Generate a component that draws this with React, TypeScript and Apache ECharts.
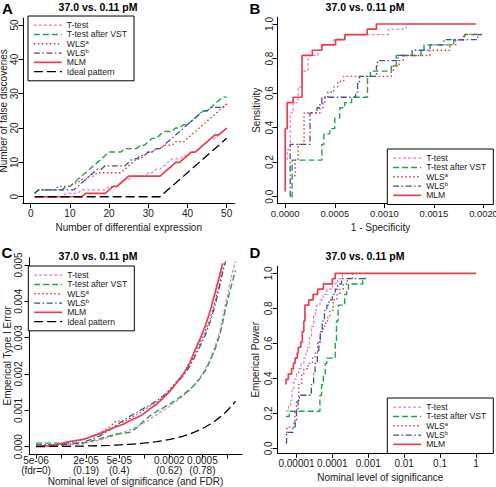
import React, { useEffect, useRef } from 'react';
import * as echarts from 'echarts';

const FONT = '"Liberation Sans Narrow", "Liberation Sans", Arial, sans-serif';
const BOLD_FONT = '"Liberation Sans", Arial, sans-serif';

const TITLE = '37.0 vs. 0.11 pM';
const NAMES_AC = ['T-test', 'T-test after VST', 'WLSa', 'WLSb', 'MLM', 'Ideal pattern'];
const NAMES_BD = ['T-test', 'T-test after VST', 'WLSa', 'WLSb', 'MLM'];

// ---------- Panel A: number of false discoveries among the top k ----------
const aRank = [1, 2, 3, 4, 5, 6, 7, 8, 9, 10, 11, 12, 13, 14, 15, 16, 17, 18, 19, 20, 21, 22, 23, 24, 25, 26, 27, 28, 29, 30, 31, 32, 33, 34, 35, 36, 37, 38, 39, 40, 41, 42, 43, 44, 45, 46, 47, 48, 49, 50];
const aTtest = [0, 0, 0, 0, 0, 0, 0, 0, 1, 1, 1, 1, 2, 2, 2, 2, 2, 2, 2, 3, 3, 3, 4, 5, 5, 6, 6, 6, 6, 7, 7, 8, 8, 9, 10, 11, 11, 11, 12, 12, 13, 13, 14, 15, 16, 17, 17, 18, 19, 20];
const aVST = [1, 2, 2, 2, 2, 2, 2, 2, 3, 3, 4, 5, 6, 7, 8, 9, 10, 11, 12, 13, 13, 13, 13, 14, 14, 14, 14, 15, 15, 16, 17, 17, 18, 19, 19, 19, 20, 20, 21, 21, 22, 23, 24, 25, 25, 26, 27, 28, 29, 29];
const aWLSa = [1, 2, 2, 2, 2, 2, 3, 3, 3, 3, 4, 4, 5, 5, 6, 6, 7, 7, 7, 7, 7, 7, 7, 8, 9, 10, 11, 11, 12, 13, 13, 14, 14, 15, 15, 15, 16, 16, 16, 17, 18, 19, 20, 21, 22, 23, 24, 25, 26, 27];
const aWLSb = [1, 2, 2, 2, 2, 2, 2, 2, 2, 2, 2, 3, 4, 5, 6, 7, 8, 8, 9, 9, 9, 9, 9, 9, 10, 11, 11, 12, 12, 13, 13, 14, 14, 15, 16, 17, 18, 19, 20, 21, 22, 23, 24, 25, 25, 26, 26, 26, 26, 27];
const aMLM = [0, 0, 0, 0, 0, 0, 0, 0, 0, 0, 0, 0, 0, 1, 1, 1, 1, 1, 1, 2, 3, 3, 4, 5, 6, 6, 6, 6, 6, 6, 6, 6, 6, 7, 8, 9, 10, 10, 11, 12, 13, 13, 14, 15, 16, 17, 18, 18, 19, 20];
const aIdeal = [0, 0, 0, 0, 0, 0, 0, 0, 0, 0, 0, 0, 0, 0, 0, 0, 0, 0, 0, 0, 0, 0, 0, 0, 0, 0, 0, 0, 0, 0, 0, 0, 0, 1, 2, 3, 4, 5, 6, 7, 8, 9, 10, 11, 12, 13, 14, 15, 16, 17];
const aXTicks = [0, 10, 20, 30, 40, 50];
const aYTicks = [0, 10, 20, 30, 40, 50];

// ---------- Panel B: ROC, [1 - specificity, sensitivity] ----------
const bTtest = [[0.00002, 0.212], [0.00002, 0.273], [0.00005, 0.485], [0.00008, 0.545], [0.00013, 0.636], [0.00017, 0.727], [0.00023, 0.818], [0.00033, 0.848], [0.00037, 0.879], [0.00049, 0.909], [0.0006, 0.939], [0.00104, 0.97], [0.00122, 1.0], [0.0019, 1.0]];
const bVST = [[0.00006, 0], [0.00007, 0.212], [0.00037, 0.303], [0.00039, 0.364], [0.00045, 0.394], [0.0005, 0.455], [0.00055, 0.515], [0.0006, 0.545], [0.00067, 0.576], [0.00083, 0.697], [0.00086, 0.727], [0.00107, 0.758], [0.00112, 0.818], [0.00137, 0.848], [0.0014, 0.879], [0.0017, 0.909], [0.00181, 0.939], [0.00198, 0.939]];
const bWLSa = [[0.00009, 0.121], [0.0001, 0.212], [0.00013, 0.303], [0.00019, 0.485], [0.00035, 0.515], [0.00038, 0.545], [0.0004, 0.576], [0.00043, 0.606], [0.00049, 0.636], [0.00053, 0.667], [0.00059, 0.697], [0.00107, 0.727], [0.00109, 0.758], [0.00115, 0.788], [0.00119, 0.818], [0.00146, 0.848], [0.00166, 0.879], [0.00172, 0.909], [0.0018, 0.939], [0.00198, 0.939]];
const bWLSb = [[0.00005, 0], [0.00005, 0.303], [0.00025, 0.485], [0.00032, 0.515], [0.00035, 0.545], [0.00037, 0.576], [0.00071, 0.606], [0.00073, 0.667], [0.00075, 0.697], [0.00092, 0.758], [0.00093, 0.788], [0.00114, 0.818], [0.00128, 0.848], [0.00146, 0.879], [0.0016, 0.909], [0.00194, 0.939], [0.00198, 0.939]];
const bMLM = [[0, 0.03], [0, 0.394], [0.00002, 0.545], [0.00008, 0.576], [0.00017, 0.818], [0.000274, 0.848], [0.000368, 0.879], [0.000508, 0.909], [0.000602, 0.939], [0.000826, 0.97], [0.00092, 1.0], [0.001923, 1.0]];
const bXTicks = [0, 0.0005, 0.001, 0.0015, 0.002];
const bYTicks = [0, 0.2, 0.4, 0.6, 0.8, 1.0];

// ---------- Panel C: empirical type I error vs nominal level ----------
const cNominal = [0.000005, 0.0000074, 0.0000089, 0.0000117, 0.0000185, 0.0000294, 0.0000387, 0.0000467, 0.000056, 0.0000674, 0.000081, 0.0000975, 0.000117, 0.000141, 0.000169, 0.000204, 0.000245, 0.000294, 0.000355, 0.000407, 0.000468, 0.000537, 0.000617, 0.000708, 0.000814, 0.000877, 0.00095, 0.00105, 0.00115, 0.00125];
const cTtest = [0.00002, 0.00002, 0.00003, 0.00005, 0.00008, 0.00018, 0.00027, 0.00033, 0.0004, 0.00047, 0.00055, 0.00064, 0.00076, 0.00088, 0.001, 0.00112, 0.00126, 0.0014, 0.00156, 0.00172, 0.0019, 0.00212, 0.0024, 0.00275, 0.0032, 0.00355, 0.00395, 0.0044, 0.0048, 0.0051];
const cVST = [0.0001, 0.0001, 0.0001, 0.0001, 0.0001, 0.00022, 0.0003, 0.00035, 0.00037, 0.0004, 0.00052, 0.0007, 0.00085, 0.00097, 0.00107, 0.00118, 0.0013, 0.00143, 0.00158, 0.00172, 0.00188, 0.00208, 0.00235, 0.00268, 0.0031, 0.00342, 0.0038, 0.0042, 0.00455, 0.00485];
const cWLSa = [0.00005, 0.00005, 0.00006, 0.0001, 0.0002, 0.00038, 0.00055, 0.00072, 0.00068, 0.00078, 0.00088, 0.001, 0.00112, 0.00122, 0.00136, 0.00158, 0.0018, 0.002, 0.00228, 0.00255, 0.00285, 0.00315, 0.00352, 0.00398, 0.00455, 0.00488, 0.0051, null, null, null];
const cWLSb = [0.00005, 0.00005, 0.00005, 0.00006, 0.00012, 0.0003, 0.00047, 0.0006, 0.00072, 0.00084, 0.00094, 0.00105, 0.00115, 0.00126, 0.0014, 0.00156, 0.00175, 0.00195, 0.00222, 0.00248, 0.00276, 0.00305, 0.00342, 0.00388, 0.00445, 0.0048, 0.0051, null, null, null];
const cMLM = [0.00002, 0.00003, 0.00006, 0.00013, 0.0002, 0.00036, 0.00048, 0.00056, 0.00062, 0.00072, 0.0008, 0.0009, 0.00104, 0.00117, 0.00134, 0.00153, 0.00176, 0.00199, 0.00232, 0.00266, 0.00296, 0.0033, 0.00372, 0.00422, 0.00475, 0.00505, null, null, null, null];
const cIdeal = [0.000005, 0.0000074, 0.0000089, 0.0000117, 0.0000185, 0.0000294, 0.0000387, 0.0000467, 0.000056, 0.0000674, 0.000081, 0.0000975, 0.000117, 0.000141, 0.000169, 0.000204, 0.000245, 0.000294, 0.000355, 0.000407, 0.000468, 0.000537, 0.000617, 0.000708, 0.000814, 0.000877, 0.00095, 0.00105, 0.00115, 0.00125];
const cXTicks = [0.000005, 0.00001, 0.00002, 0.00005, 0.0001, 0.0002, 0.0005, 0.001];
const cXLabelValues = [0.000005, 0.00002, 0.00005, 0.0002, 0.0005];
const cXLabels = ['5e-06\n(fdr=0)', '2e-05\n(0.19)', '5e-05\n(0.4)', '0.0002\n(0.62)', '0.0005\n(0.78)'];
const cYTicks = [0, 0.001, 0.002, 0.003, 0.004, 0.005];

// ---------- Panel D: empirical power vs nominal level ----------
const dTtest = [[0.0000051, 0.212], [0.000006, 0.242], [0.0000068, 0.273], [0.0000075, 0.333], [0.0000085, 0.394], [0.00001, 0.424], [0.0000115, 0.455], [0.0000135, 0.485], [0.000016, 0.515], [0.000018, 0.545], [0.00002, 0.576], [0.000023, 0.636], [0.000026, 0.697], [0.00003, 0.758], [0.000033, 0.788], [0.000036, 0.818], [0.000045, 0.848], [0.000055, 0.879], [0.00007, 0.909], [0.0001, 0.939], [0.00014, 0.97], [0.00019, 1.0]];
const dVST = [[0.0000051, 0.182], [0.0000063, 0.212], [0.000045, 0.303], [0.00005, 0.364], [0.000056, 0.424], [0.000063, 0.485], [0.00007, 0.515], [0.00012, 0.606], [0.00013, 0.727], [0.000145, 0.818], [0.00022, 0.879], [0.00025, 0.909], [0.00028, 0.939], [0.0007, 0.97], [0.00088, 0.97]];
const dWLSa = [[0.0000051, 0.091], [0.0000054, 0.121], [0.0000085, 0.152], [0.000009, 0.212], [0.00001, 0.273], [0.0000115, 0.364], [0.000014, 0.424], [0.000016, 0.455], [0.000021, 0.485], [0.000028, 0.515], [0.000033, 0.545], [0.000039, 0.606], [0.000046, 0.667], [0.000055, 0.697], [0.000065, 0.727], [0.000075, 0.758], [0.000085, 0.788], [0.000105, 0.848], [0.000135, 0.879], [0.00016, 0.909], [0.0002, 0.939], [0.00026, 0.97], [0.00036, 1.0], [0.0004, 1.0]];
const dWLSb = [[0.000005, 0.03], [0.0000053, 0.091], [0.000008, 0.121], [0.0000092, 0.152], [0.00001, 0.212], [0.000011, 0.273], [0.000012, 0.303], [0.000026, 0.364], [0.00003, 0.424], [0.000033, 0.485], [0.000038, 0.545], [0.000042, 0.606], [0.000046, 0.667], [0.000052, 0.727], [0.00006, 0.788], [0.00007, 0.818], [0.00008, 0.848], [0.0001, 0.879], [0.00012, 0.909], [0.00014, 0.939], [0.00018, 0.97], [0.00085, 0.97]];
const dMLM = [[0.0000051, 0.364], [0.0000051, 0.394], [0.0000059, 0.424], [0.0000073, 0.455], [0.0000082, 0.485], [0.0000091, 0.515], [0.0000105, 0.545], [0.0000112, 0.576], [0.0000131, 0.606], [0.0000145, 0.667], [0.000016, 0.727], [0.0000172, 0.818], [0.000022, 0.848], [0.000029, 0.879], [0.000039, 0.909], [0.000056, 0.939], [0.0001, 0.97], [0.00012, 1.0], [1, 1.0]];
const dXTicks = [0.00001, 0.0001, 0.001, 0.01, 0.1, 1];
const dXLabels = ['0.00001', '0.0001', '0.001', '0.01', '0.1', '1'];
const dYTicks = [0, 0.2, 0.4, 0.6, 0.8, 1.0];

const STYLE: Record<string, any> = {
  'T-test': { color: '#e77fc4', width: 1.2, type: [3, 2] },
  'T-test after VST': { color: '#22a24a', width: 1.4, type: [6, 3] },
  WLSa: { color: '#cc3a33', width: 1.4, type: [1.5, 2.5] },
  WLSb: { color: '#3e4ea6', width: 1.3, type: [6, 2.5, 1.5, 2.5] },
  MLM: { color: '#e8414b', width: 1.7, type: 'solid' },
  'Ideal pattern': { color: '#000000', width: 1.3, type: [9, 4] },
};

const zip = (xs: number[], ys: (number | null)[]) =>
  xs.map((x, i) => [x, ys[i]]).filter((p) => p[1] !== null);

const mkSeries = (name: string, data: any[], idx: number, step?: string) => ({
  type: 'line',
  name,
  xAxisIndex: idx,
  yAxisIndex: idx,
  data,
  step: step || false,
  symbol: 'none',
  silent: true,
  lineStyle: { ...STYLE[name] },
  itemStyle: { color: STYLE[name].color },
  emphasis: { disabled: true },
});

const labelText = { fontFamily: FONT, fontSize: 10, color: '#1a1a1a' };
const nameText = { fontFamily: FONT, fontSize: 10, color: '#1a1a1a' };

const xAxisDef = (idx: number, type: string, min: number, max: number, ticks: number[], labelVals: number[], fmt: (v: number) => string, name: string, extra: any = {}) => ({
  type,
  gridIndex: idx,
  min,
  max,
  logBase: 10,
  axisLine: { show: true, onZero: false, lineStyle: { color: '#000', width: 1 } },
  axisTick: { show: true, length: 4.5, customValues: ticks, lineStyle: { color: '#000', width: 1 } },
  axisLabel: { customValues: labelVals, formatter: fmt, margin: 5, hideOverlap: false, ...labelText, ...(extra.label || {}) },
  splitLine: { show: false },
  minorTick: { show: false },
  name,
  nameLocation: 'middle',
  nameGap: extra.nameGap ?? 19,
  nameTextStyle: nameText,
});

const yAxisDef = (idx: number, min: number, max: number, ticks: number[], fmt: (v: number) => string, name: string, margin: number, nameGap: number) => ({
  type: 'value',
  gridIndex: idx,
  min,
  max,
  axisLine: { show: true, onZero: false, lineStyle: { color: '#000', width: 1 } },
  axisTick: { show: true, length: 4.5, customValues: ticks, lineStyle: { color: '#000', width: 1 } },
  axisLabel: { customValues: ticks, formatter: fmt, rotate: 90, margin, ...labelText },
  splitLine: { show: false },
  name,
  nameLocation: 'middle',
  nameRotate: 90,
  nameGap,
  nameTextStyle: nameText,
});

const legendDef = (names: string[], left: number, top: number) => ({
  data: names,
  left,
  top,
  orient: 'vertical',
  itemWidth: 28,
  itemHeight: 9.3,
  itemGap: 0,
  itemTextGap: 6,
  padding: [4.5, 7, 4.5, 5],
  borderColor: '#000',
  borderWidth: 1,
  backgroundColor: '#ffffff',
  selectedMode: false,
  itemStyle: { opacity: 0, borderWidth: 0 },
  lineStyle: { width: 'inherit', type: 'inherit' },
  formatter: (n: string) => (n === 'WLSa' ? 'WLS{sup|a}' : n === 'WLSb' ? 'WLS{sup|b}' : n),
  textStyle: {
    fontFamily: FONT,
    fontSize: 8.6,
    color: '#1a1a1a',
    lineHeight: 9.3,
    rich: {
      sup: { fontFamily: FONT, fontSize: 5.8, color: '#1a1a1a', verticalAlign: 'top', lineHeight: 5 },
    },
  },
});

const findLabel = (v: number, vals: number[], labels: string[]) => {
  for (let i = 0; i < vals.length; i++) {
    if (Math.abs(Math.log10(v) - Math.log10(vals[i])) < 0.01) return labels[i];
  }
  return '';
};

const textEl = (text: string, x: number, y: number, font: string) => ({
  type: 'text',
  x,
  y,
  silent: true,
  style: { text, font, fill: '#000', align: 'center', verticalAlign: 'middle', textAlign: 'center', textVerticalAlign: 'middle' },
});

export default function App() {
  const ref = useRef<HTMLDivElement>(null);
  useEffect(() => {
    if (!ref.current) return;
    const chart = echarts.init(ref.current, undefined, { renderer: 'svg' });
    const option: any = {
      animation: false,
      backgroundColor: '#ffffff',
      textStyle: { fontFamily: FONT },
      grid: [
        { left: 22.9, top: 18.1, width: 211.6, height: 185.5, outerBoundsMode: 'none' },
        { left: 277.6, top: 17.1, width: 205.9, height: 186.5, outerBoundsMode: 'none' },
        { left: 29, top: 257.7, width: 213, height: 196.3, outerBoundsMode: 'none' },
        { left: 277.3, top: 266.3, width: 206, height: 187, outerBoundsMode: 'none' },
      ],
      xAxis: [
        xAxisDef(0, 'value', -2, 52, aXTicks, aXTicks, (v) => String(v), 'Number of differential expression'),
        xAxisDef(1, 'value', -0.0000768, 0.002, bXTicks, bXTicks, (v) => v.toFixed(4), '1 - Specificity', { label: { fontSize: 9.4 } }),
        xAxisDef(2, 'log', 0.00000412, 0.001496, cXTicks, cXLabelValues, (v) => findLabel(v, cXLabelValues, cXLabels), 'Nominal level of significance (and FDR)', { label: { margin: 2, lineHeight: 9.5 }, nameGap: 17.5 }),
        xAxisDef(3, 'log', 0.00000292, 1.6, dXTicks, dXTicks, (v) => findLabel(v, dXTicks, dXLabels), 'Nominal level of significance'),
      ],
      yAxis: [
        yAxisDef(0, -2, 52, aYTicks, (v) => String(v), 'Number of false discoveries', 3.5, 7.5),
        yAxisDef(1, -0.04, 1.04, bYTicks, (v) => v.toFixed(1), 'Sensitivity', 3.5, 16),
        yAxisDef(2, -0.0002, 0.0052, cYTicks, (v) => v.toFixed(3), 'Emperical Type I Error', 5.5, 14),
        yAxisDef(3, -0.0286, 1.04, dYTicks, (v) => v.toFixed(1), 'Emperical Power', 3.5, 16.5),
      ],
      legend: [
        legendDef(NAMES_AC, 28, 16),
        legendDef(NAMES_BD, 387.3, 149),
        legendDef(NAMES_AC, 28.3, 266),
        legendDef(NAMES_BD, 387.3, 398),
      ],
      series: [
        mkSeries('T-test', zip(aRank, aTtest), 0),
        mkSeries('T-test after VST', zip(aRank, aVST), 0),
        mkSeries('WLSa', zip(aRank, aWLSa), 0),
        mkSeries('WLSb', zip(aRank, aWLSb), 0),
        mkSeries('MLM', zip(aRank, aMLM), 0),
        mkSeries('Ideal pattern', zip(aRank, aIdeal), 0),

        mkSeries('T-test', bTtest, 1, 'end'),
        mkSeries('T-test after VST', bVST, 1, 'end'),
        mkSeries('WLSa', bWLSa, 1, 'end'),
        mkSeries('WLSb', bWLSb, 1, 'end'),
        mkSeries('MLM', bMLM, 1, 'end'),

        mkSeries('T-test', zip(cNominal, cTtest), 2),
        mkSeries('T-test after VST', zip(cNominal, cVST), 2),
        mkSeries('WLSa', zip(cNominal, cWLSa), 2),
        mkSeries('WLSb', zip(cNominal, cWLSb), 2),
        mkSeries('MLM', zip(cNominal, cMLM), 2),
        mkSeries('Ideal pattern', zip(cNominal, cIdeal), 2),

        mkSeries('T-test', dTtest, 3, 'end'),
        mkSeries('T-test after VST', dVST, 3, 'end'),
        mkSeries('WLSa', dWLSa, 3, 'end'),
        mkSeries('WLSb', dWLSb, 3, 'end'),
        mkSeries('MLM', dMLM, 3, 'end'),
      ],
      graphic: [
        textEl('A', 7.5, 8.5, `bold 15px ${BOLD_FONT}`),
        textEl('B', 255, 8.5, `bold 15px ${BOLD_FONT}`),
        textEl('C', 7, 252.5, `bold 15px ${BOLD_FONT}`),
        textEl('D', 255, 252.5, `bold 15px ${BOLD_FONT}`),
        textEl(TITLE, 98, 6.5, `bold 10.5px ${FONT}`),
        textEl(TITLE, 365, 6.5, `bold 10.5px ${FONT}`),
        textEl(TITLE, 98, 255.5, `bold 10.5px ${FONT}`),
        textEl(TITLE, 365, 255.5, `bold 10.5px ${FONT}`),
      ],
    };
    chart.setOption(option);
    return () => chart.dispose();
  }, []);
  return <div ref={ref} style={{ position: 'absolute', left: 0, top: 0, width: 496, height: 487 }} />;
}
